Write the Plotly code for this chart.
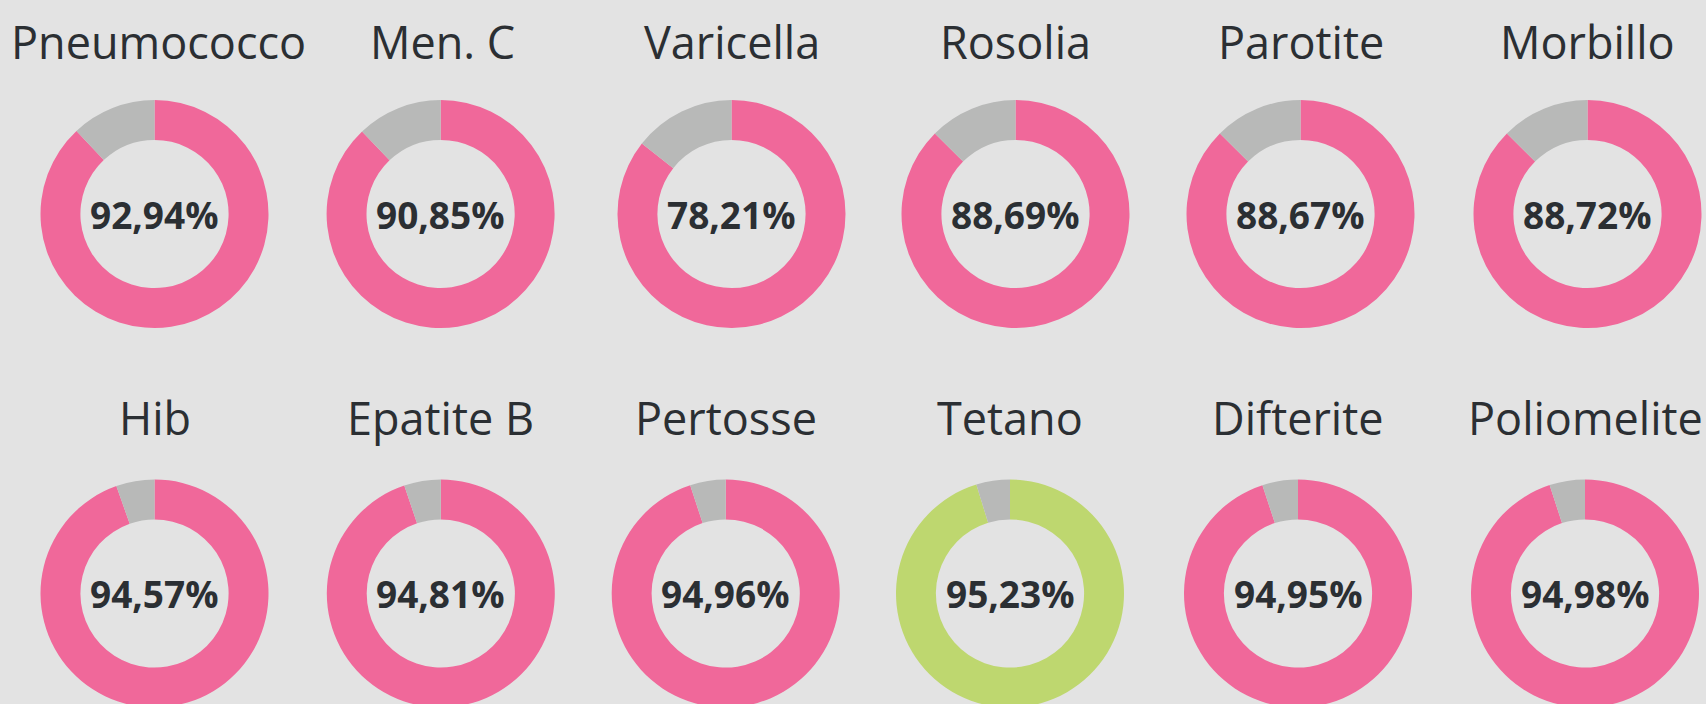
import plotly.graph_objects as go

# ---- data ----
vaccines = ["Pneumococco", "Men. C", "Varicella", "Rosolia", "Parotite", "Morbillo",
            "Hib", "Epatite B", "Pertosse", "Tetano", "Difterite", "Poliomelite"]
coverage = [92.94, 90.85, 78.21, 88.69, 88.67, 88.72,
            94.57, 94.81, 94.96, 95.23, 94.95, 94.98]
# share of the ring drawn in colour
ring_filled = [88.0, 87.9, 85.6, 87.5, 87.5, 87.5,
               94.57, 94.81, 94.96, 95.23, 94.95, 94.98]
ring_rest = [100 - v for v in ring_filled]
highlight = ["Tetano"]

# ---- layout constants ----
W, H = 1706, 720
R = 114
row1_cx = [154.5, 440.6, 731.5, 1015.5, 1300.5, 1587.5]
row2_cx = [154.5, 440.8, 725.7, 1010.0, 1298.0, 1585.0]
row1_title_dx = [4, 2, 0, 0, 0, 0]
row_cy = [214.0, 593.5]
title_cy = [41.0, 417.0]

PINK = "#F0689A"
GREEN = "#BED76F"
GREY = "#B8B9B8"
BG = "#E3E3E3"
TXT = "#2B2F33"

fig = go.Figure()
annotations = []
for i, name in enumerate(vaccines):
    row = i // 6
    cx = (row1_cx if row == 0 else row2_cx)[i % 6]
    tdx = row1_title_dx[i % 6] if row == 0 else 0
    cy = row_cy[row]
    col = GREEN if name in highlight else PINK
    fig.add_trace(go.Pie(
        values=[ring_filled[i], ring_rest[i]],
        labels=["vaccinati", "non vaccinati"],
        hole=0.65,
        sort=False,
        direction="clockwise",
        rotation=0,
        marker=dict(colors=[col, GREY], line=dict(width=0)),
        textinfo="none",
        hoverinfo="none",
        showlegend=False,
        domain=dict(x=[(cx - R) / W, (cx + R) / W],
                    y=[1 - (cy + R) / H, 1 - (cy - R) / H]),
    ))
    annotations.append(dict(
        x=(cx + tdx) / W, y=1 - title_cy[row] / H, xref="paper", yref="paper",
        text=name, showarrow=False, xanchor="center", yanchor="middle",
        font=dict(family="Open Sans", size=45, color=TXT),
    ))
    annotations.append(dict(
        x=cx / W, y=1 - cy / H, xref="paper", yref="paper",
        text=f"{coverage[i]:.2f}".replace(".", ",") + "%", showarrow=False,
        xanchor="center", yanchor="middle",
        font=dict(family="Open Sans", size=37, color=TXT, weight="bold"),
    ))

fig.update_layout(
    width=W, height=H,
    margin=dict(l=0, r=0, t=0, b=0),
    paper_bgcolor=BG, plot_bgcolor=BG,
    annotations=annotations,
)

fig.write_html("out.html", config={"displayModeBar": False},
               post_script="document.body.style.margin='0';document.body.style.overflow='hidden';document.documentElement.style.overflow='hidden';")
